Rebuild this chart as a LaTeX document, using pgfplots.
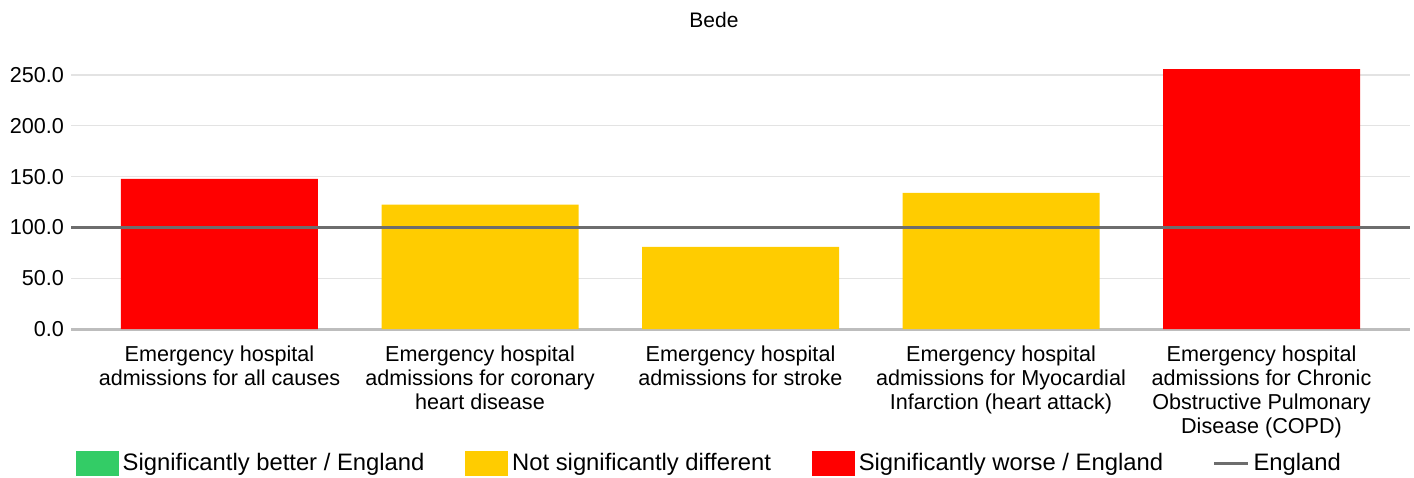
\documentclass[border=0pt]{standalone}
\usepackage{fontspec}
\setmainfont{Liberation Sans}
\usepackage{pgfplots}
\pgfplotsset{compat=1.18}
\definecolor{sigworse}{HTML}{FF0000}
\definecolor{notsig}{HTML}{FFCC00}
\definecolor{sigbetter}{HTML}{33CC66}
\definecolor{engl}{HTML}{6D6D6D}
\definecolor{gridc}{HTML}{E3E3E3}
\definecolor{zeroc}{HTML}{BDBDBD}
\begin{document}
\begin{tikzpicture}
\useasboundingbox (0,0) rectangle (707pt,-238.5pt);
\node[anchor=base, inner sep=0pt, font=\fontsize{10.5pt}{12pt}\selectfont] at (357pt,-13.5pt) {Bede};
\begin{axis}[
  at={(35.5pt,-164.5pt)}, anchor=south west,
  scale only axis, width=669.5pt, height=134.6pt,
  xmin=-0.57, xmax=4.57, ymin=0, ymax=265,
  clip=false,
  axis line style={draw=none},
  major tick length=0pt,
  ytick={0,50,...,250},
  ymajorgrids, grid style={gridc, line width=0.6pt},
  xtick={0,1,2,3,4},
  xticklabels={{Emergency hospital\\admissions for all causes},
               {Emergency hospital\\admissions for coronary\\heart disease},
               {Emergency hospital\\admissions for stroke},
               {Emergency hospital\\admissions for Myocardial\\Infarction (heart attack)},
               {Emergency hospital\\admissions for Chronic\\Obstructive Pulmonary\\Disease (COPD)}},
  xticklabel style={align=center, anchor=north, yshift=-5pt, font=\fontsize{10.8pt}{12pt}\selectfont},
  yticklabel style={font=\fontsize{10.8pt}{12pt}\selectfont},
  /pgf/number format/.cd, fixed, fixed zerofill, precision=1, assume math mode=true,
  /pgfplots/.cd,
  legend columns=4,
  legend style={at={(axis description cs:0.0037,-0.498)}, anchor=west, draw=none, fill=none,
    inner sep=0pt, outer sep=0pt, font=\fontsize{11.9pt}{13pt}\selectfont,
    nodes={inner sep=0pt},
    /tikz/every odd column/.append style={column sep=2pt},
    /tikz/every even column/.append style={column sep=20.5pt}},
  legend cell align=left,
]
\addlegendimage{legend image code/.code={\fill[sigbetter] (0pt,-6pt) rectangle (21pt,6pt);}}
\addlegendimage{legend image code/.code={\fill[notsig] (0pt,-6pt) rectangle (21pt,6pt);}}
\addlegendimage{legend image code/.code={\fill[sigworse] (0pt,-6pt) rectangle (21pt,6pt);}}
\addlegendimage{legend image code/.code={\path[draw=none, fill=none] (0pt,-6pt) rectangle (22pt,6pt); \draw[engl, line width=1.5pt] (5pt,0pt) -- (22pt,0pt);}}
\legend{Significantly better / England, Not significantly different, Significantly worse / England, England}
\addplot[zeroc, line width=1.5pt, forget plot] coordinates {(-0.57,0) (4.57,0)};
\addplot[ybar, bar width=98.5pt, bar shift=0pt, fill=sigworse, draw=none, forget plot] coordinates {(0,147.8) (4,255.9)};
\addplot[ybar, bar width=98.5pt, bar shift=0pt, fill=notsig, draw=none, forget plot] coordinates {(1,122.5) (2,80.9) (3,134.0)};
\addplot[engl, line width=1.5pt, forget plot] coordinates {(-0.57,100) (4.57,100)};
\end{axis}
\end{tikzpicture}
\end{document}
